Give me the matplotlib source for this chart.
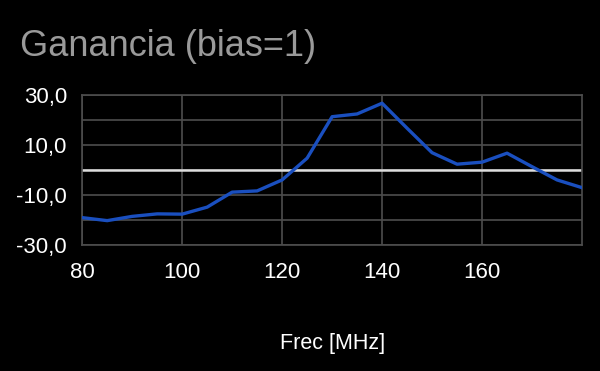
import matplotlib
matplotlib.use("Agg")
import matplotlib.pyplot as plt
import numpy as np

plt.rcParams['font.family'] = ['Liberation Sans', 'DejaVu Sans']

# frequency [MHz] and gain (bias=1)
frec = [80, 85, 90, 95, 100, 105, 110, 115, 120, 125, 130,
        135, 140, 145, 150, 155, 160, 165, 170, 175, 180]
ganancia = [-19.1, -20.3, -18.6, -17.6, -17.7, -14.9, -8.9, -8.4, -4.0, 4.7, 21.3,
            22.4, 26.7, 16.7, 6.9, 2.3, 3.1, 6.7, 1.3, -4.0, -7.1]

fig = plt.figure(figsize=(6, 3.71), dpi=100, facecolor='black')
ax = fig.add_axes([0.137, 0.340, 0.833, 0.404])
ax.set_facecolor('black')

ax.set_xlim(80, 180)
ax.set_ylim(-30, 30)
ax.set_xticks(np.arange(80, 181, 20))
ax.set_yticks(np.arange(-30, 31, 10))
ax.grid(True, color='#4d4d4d', linewidth=1.2)
ax.axhline(0, color='#dddddd', linewidth=1.8, zorder=2)

ax.plot(frec, ganancia, color='#1a4fbf', linewidth=2.4, zorder=3)

ax.set_xticks([80, 100, 120, 140, 160])
ax.set_xticklabels(['80', '100', '120', '140', '160'])
ax.set_yticks([-30, -20, -10, 0, 10, 20, 30])
ax.set_yticklabels(['-30,0', '', '-10,0', '', '10,0', '', '30,0'])
ax.tick_params(colors='white', labelsize=16, length=0)
ax.tick_params(axis='x', pad=12)
ax.tick_params(axis='y', pad=11)
for s in ax.spines.values():
    s.set_color('#4d4d4d')
    s.set_linewidth(1.2)

ax.set_xlabel('Frec [MHz]', color='white', fontsize=15.5, labelpad=36)
fig.text(0.033, 0.875, 'Ganancia (bias=1)', color='#9a9a9a', fontsize=26,
         ha='left', va='center')

fig.savefig('out.png', dpi=100, facecolor='black')
